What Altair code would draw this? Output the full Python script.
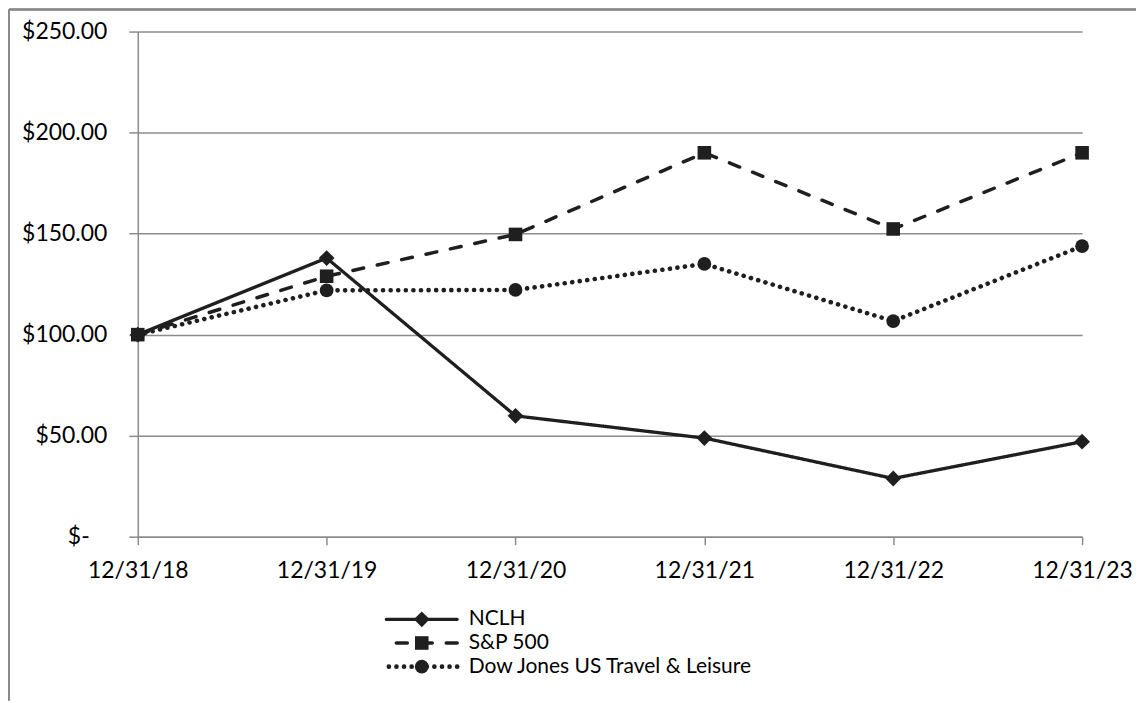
import altair as alt
import pandas as pd

dates = ["12/31/18", "12/31/19", "12/31/20", "12/31/21", "12/31/22", "12/31/23"]
series_names = ["NCLH", "S&P 500", "Dow Jones US Travel & Leisure"]
nclh = [100.0, 137.9, 59.8, 48.8, 28.8, 47.0]
sp500 = [100.0, 128.9, 149.6, 190.0, 152.3, 190.0]
djtl = [100.0, 121.9, 122.1, 135.0, 106.7, 143.8]
y_ticks = [0, 50, 100, 150, 200, 250]

rows = []
for name, vals in zip(series_names, [nclh, sp500, djtl]):
    for d, v in zip(dates, vals):
        rows.append({"date": d, "series": name, "value": v})
df = pd.DataFrame(rows)
legend_df = pd.DataFrame({"series": series_names})

FONT = "Lato"
INK = "#1f1f1f"
GRID = "#8c8c8c"

styles = {
    "NCLH": dict(dash=[1, 0], width=3.3, shape="diamond", size=250),
    "S&P 500": dict(dash=[11, 14], width=3.5, shape="square", size=185),
    "Dow Jones US Travel & Leisure": dict(dash=[0.1, 7.5], width=4.6, shape="circle", size=190),
}

x_enc = alt.X(
    "date:O",
    sort=dates,
    scale=alt.Scale(padding=0),
    axis=alt.Axis(
        title=None, labelAngle=0, labelFont=FONT, labelFontSize=23, labelColor="#000000",
        tickSize=8, tickColor=GRID, tickWidth=1.5, domainColor=GRID, domainWidth=1.5,
        labelPadding=15, grid=False,
    ),
)
y_enc = alt.Y(
    "value:Q",
    scale=alt.Scale(domain=[0, 250], nice=False),
    axis=alt.Axis(
        title=None, values=y_ticks, labelFont=FONT, labelFontSize=23, labelColor="#000000",
        labelExpr="datum.value == 0 ? '$-\u00a0\u00a0\u00a0\u200b' : '$' + format(datum.value, '.2f')",
        tickSize=9, tickColor=GRID, tickWidth=1.5, domainColor=GRID, domainWidth=1.5,
        gridColor=GRID, gridWidth=1.5, labelPadding=22,
    ),
)

base = alt.Chart(df)
layers = []
for i, name in enumerate(series_names):
    st = styles[name]
    sub = base.transform_filter(alt.datum.series == name)
    layers.append(
        sub.mark_line(color=INK, strokeCap="round", strokeDash=st["dash"], strokeWidth=st["width"]).encode(
            x=x_enc if i == 0 else alt.X("date:O", sort=dates),
            y=y_enc if i == 0 else alt.Y("value:Q"),
        )
    )
for name in series_names:
    st = styles[name]
    sub = base.transform_filter(alt.datum.series == name)
    layers.append(
        sub.mark_point(filled=True, color=INK, opacity=1, shape=st["shape"], size=st["size"]).encode(
            x=alt.X("date:O", sort=dates),
            y=alt.Y("value:Q"),
        )
    )

border_top = alt.Chart(legend_df).mark_rule(color="#8a8a8a", strokeWidth=2).encode(
    x=alt.value(-129), x2=alt.value(1000), y=alt.value(-22)
)
border_left = alt.Chart(legend_df).mark_rule(color="#8a8a8a", strokeWidth=2).encode(
    x=alt.value(-129), y=alt.value(-22), y2=alt.value(670)
)

main = alt.layer(*layers, border_top, border_left).properties(width=946, height=506)

ly = alt.Y(
    "series:N",
    sort=series_names,
    scale=alt.Scale(domain=series_names, padding=0.5),
    axis=alt.Axis(
        orient="right", title=None, ticks=False, domain=False, grid=False,
        labelFont=FONT, labelFontSize=21, labelColor="#000000", labelPadding=11, labelLimit=0,
    ),
)
leg_layers = []
for i, name in enumerate(series_names):
    st = styles[name]
    sub = alt.Chart(legend_df).transform_filter(alt.datum.series == name)
    leg_layers.append(
        sub.mark_rule(color=INK, strokeCap="round", strokeDash=st["dash"], strokeWidth=st["width"]).encode(
            y=ly if i == 0 else alt.Y("series:N", sort=series_names)
        )
    )
    leg_layers.append(
        sub.mark_point(filled=True, color=INK, opacity=1, shape=st["shape"], size=st["size"]).encode(
            y=alt.Y("series:N", sort=series_names)
        )
    )
legend = alt.layer(*leg_layers).properties(width=71, height=83)

spacer = alt.Chart(legend_df).mark_text(text="").encode(x=alt.value(0)).properties(width=249, height=83)

chart = alt.vconcat(
    main,
    alt.hconcat(spacer, legend, spacing=0, bounds="flush"),
    spacing=65,
    bounds="flush",
).properties(padding=0, background="white").configure_view(stroke="transparent", strokeWidth=0)

chart.save("out.html", embed_options={"renderer": "svg", "actions": False})
